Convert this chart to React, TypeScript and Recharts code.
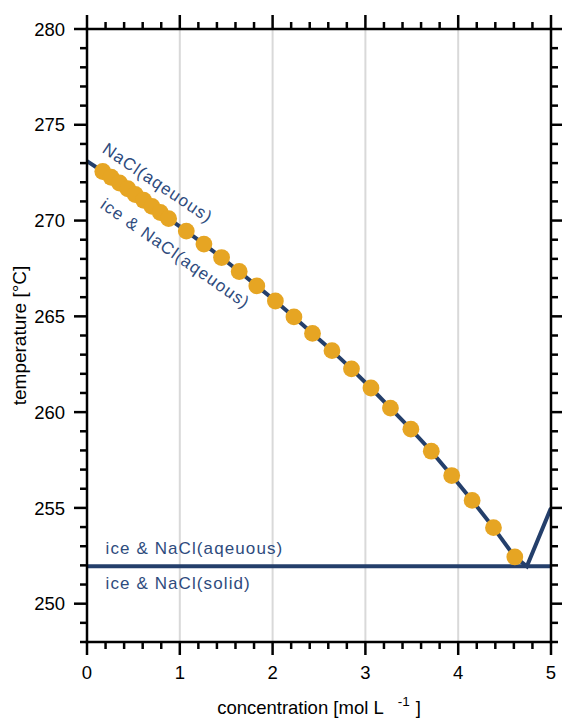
import React from 'react';
import {
  ComposedChart,
  Line,
  Scatter,
  XAxis,
  YAxis,
  ReferenceLine,
  ReferenceDot,
} from 'recharts';

// measured freezing points (dots)
const concentration = [
  0.17, 0.26, 0.35, 0.44, 0.52, 0.61, 0.7, 0.79, 0.88, 1.07, 1.26, 1.45, 1.64, 1.83,
  2.03, 2.23, 2.43, 2.64, 2.85, 3.06, 3.27, 3.49, 3.71, 3.93, 4.15, 4.38, 4.61,
];
const temperature = [
  272.56, 272.26, 271.96, 271.66, 271.36, 271.06, 270.74, 270.42, 270.1, 269.45, 268.77,
  268.07, 267.34, 266.59, 265.8, 264.97, 264.11, 263.21, 262.26, 261.26, 260.21, 259.11,
  257.96, 256.69, 255.39, 253.97, 252.44,
];

// phase boundary: pure water start, eutectic point, NaCl liquidus end
const boundaryStart = { x: 0, y: 273.1 };
const eutectic = { x: 4.74, y: 251.95 };
const boundaryEnd = { x: 5, y: 255.0 };

const eutecticLineX = [0, 5];

const xTicks = [
  0, 0.2, 0.4, 0.6, 0.8, 1, 1.2, 1.4, 1.6, 1.8, 2, 2.2, 2.4, 2.6, 2.8, 3, 3.2, 3.4, 3.6, 3.8,
  4, 4.2, 4.4, 4.6, 4.8, 5,
];
const yTicks = [
  248, 249, 250, 251, 252, 253, 254, 255, 256, 257, 258, 259, 260, 261, 262, 263, 264, 265,
  266, 267, 268, 269, 270, 271, 272, 273, 274, 275, 276, 277, 278, 279, 280,
];
const gridX = [1, 2, 3, 4];

const annotations = [
  { x: 0.76, y: 271.95, text: 'NaCl(aqeuous)', angle: 34, anchor: 'middle' },
  { x: 0.95, y: 268.27, text: 'ice & NaCl(aqeuous)', angle: 35, anchor: 'middle' },
  { x: 0.2, y: 252.88, text: 'ice & NaCl(aqeuous)', angle: 0, anchor: 'start' },
  { x: 0.2, y: 251.05, text: 'ice & NaCl(solid)', angle: 0, anchor: 'start' },
];

const dots = concentration.map((x, i) => ({ x, y: temperature[i] }));
const boundary = [boundaryStart, ...dots, eutectic, boundaryEnd];
const eutecticLine = eutecticLineX.map((x) => ({ x, y: eutectic.y }));

const LINE = '#243f6b';
const DOT = '#e6a523';
const TEXT = '#2e4b7d';
const FONT = '"Liberation Sans", Arial, sans-serif';

const isMajor = (v: number, step: number) => Math.abs(v / step - Math.round(v / step)) < 1e-6;

const BottomTick = ({ x, y, payload }: any) => {
  const major = isMajor(payload.value, 1);
  return (
    <g>
      <line x1={x} y1={y} x2={x} y2={y + (major ? 13 : 7)} stroke="#000" strokeWidth={2.5} />
      {major && (
        <text x={x} y={y + 37} textAnchor="middle" fontSize={18.5} fill="#000">
          {Math.round(payload.value)}
        </text>
      )}
    </g>
  );
};

const TopTick = ({ x, y, payload }: any) => {
  const major = isMajor(payload.value, 1);
  return <line x1={x} y1={y} x2={x} y2={y - (major ? 14 : 7)} stroke="#000" strokeWidth={2.5} />;
};

const LeftTick = ({ x, y, payload }: any) => {
  const major = isMajor(payload.value, 5);
  return (
    <g>
      <line x1={x} y1={y} x2={x - (major ? 13 : 7)} y2={y} stroke="#000" strokeWidth={2.5} />
      {major && (
        <text x={x - 22} y={y + 6.6} textAnchor="end" fontSize={18.5} fill="#000">
          {payload.value}
        </text>
      )}
    </g>
  );
};

const RightTick = ({ x, y, payload }: any) => {
  const major = isMajor(payload.value, 5);
  return <line x1={x} y1={y} x2={x + (major ? 13 : 7)} y2={y} stroke="#000" strokeWidth={2.5} />;
};

const XLabel = (props: any) => {
  const vb = props.viewBox || { x: 87, y: 642, width: 464 };
  const cx = vb.x + vb.width / 2;
  return (
    <text x={cx} y={vb.y + 72} textAnchor="middle" fontSize={18.5} fill="#000">
      concentration [mol L
      <tspan dx={14} dy={-8} fontSize={13.5}>
        -1
      </tspan>
      <tspan dx={6} dy={8}>
        ]
      </tspan>
    </text>
  );
};

const YLabel = (props: any) => {
  const vb = props.viewBox || { x: 27, y: 29, height: 613 };
  const cy = vb.y + vb.height / 2;
  const x = 26;
  return (
    <text
      x={x}
      y={cy}
      transform={`rotate(-90 ${x} ${cy})`}
      textAnchor="middle"
      fontSize={19}
      fill="#000"
    >
      temperature [°C]
    </text>
  );
};

const annoLabel = (text: string, angle: number, anchor: string) => (props: any) => {
  const vb = props.viewBox;
  const x = vb.x + (vb.width || 0) / 2;
  const y = vb.y + (vb.height || 0) / 2;
  return (
    <text
      x={x}
      y={y}
      transform={angle ? `rotate(${angle} ${x} ${y})` : undefined}
      textAnchor={anchor as any}
      dominantBaseline="central"
      fontSize={17}
      letterSpacing={1.1}
      fill={TEXT}
    >
      {text}
    </text>
  );
};

const DotShape = (props: any) => <circle cx={props.cx} cy={props.cy} r={8.4} fill={DOT} />;

const axisLine = { stroke: '#000', strokeWidth: 2.5, strokeLinecap: 'square' as const };

export default function App() {
  return (
    <div style={{ width: 562, height: 718, fontFamily: FONT, background: '#fff' }}>
      <style>{'body{margin:0;background:#fff}'}</style>
      <ComposedChart
        width={562}
        height={718}
        margin={{ top: 28, right: 10, bottom: 46, left: 27 }}
        style={{ fontFamily: FONT }}
      >
        <XAxis
          xAxisId="bottom"
          dataKey="x"
          type="number"
          domain={[0, 5]}
          ticks={xTicks}
          allowDataOverflow
          height={30}
          tickSize={0}
          tickMargin={0}
          tickLine={false}
          tick={<BottomTick />}
          axisLine={axisLine}
          interval={0}
          label={XLabel}
        />
        <XAxis
          xAxisId="top"
          orientation="top"
          dataKey="x"
          type="number"
          domain={[0, 5]}
          ticks={xTicks}
          allowDataOverflow
          height={1}
          tickSize={0}
          tickMargin={0}
          tickLine={false}
          tick={<TopTick />}
          axisLine={axisLine}
          interval={0}
        />
        <YAxis
          yAxisId="left"
          dataKey="y"
          type="number"
          domain={[248, 280]}
          ticks={yTicks}
          allowDataOverflow
          width={60}
          tickSize={0}
          tickMargin={0}
          tickLine={false}
          tick={<LeftTick />}
          axisLine={axisLine}
          interval={0}
          label={YLabel}
        />
        <YAxis
          yAxisId="right"
          orientation="right"
          dataKey="y"
          type="number"
          domain={[248, 280]}
          ticks={yTicks}
          allowDataOverflow
          width={1}
          tickSize={0}
          tickMargin={0}
          tickLine={false}
          tick={<RightTick />}
          axisLine={axisLine}
          interval={0}
        />
        {gridX.map((g) => (
          <ReferenceLine
            key={g}
            x={g}
            xAxisId="bottom"
            yAxisId="left"
            stroke="#d9d9d9"
            strokeWidth={2}
          />
        ))}
        <Line
          xAxisId="bottom"
          yAxisId="left"
          data={eutecticLine}
          dataKey="y"
          stroke={LINE}
          strokeWidth={4}
          dot={false}
          activeDot={false}
          isAnimationActive={false}
        />
        <Line
          xAxisId="bottom"
          yAxisId="left"
          data={boundary}
          dataKey="y"
          stroke={LINE}
          strokeWidth={4}
          strokeLinejoin="miter"
          dot={false}
          activeDot={false}
          isAnimationActive={false}
        />
        <Scatter
          xAxisId="bottom"
          yAxisId="left"
          data={dots}
          dataKey="y"
          shape={DotShape}
          isAnimationActive={false}
        />
        {annotations.map((a, i) => (
          <ReferenceDot
            key={i}
            xAxisId="bottom"
            yAxisId="left"
            x={a.x}
            y={a.y}
            r={0}
            fill="none"
            stroke="none"
            label={annoLabel(a.text, a.angle, a.anchor)}
          />
        ))}
      </ComposedChart>
    </div>
  );
}
